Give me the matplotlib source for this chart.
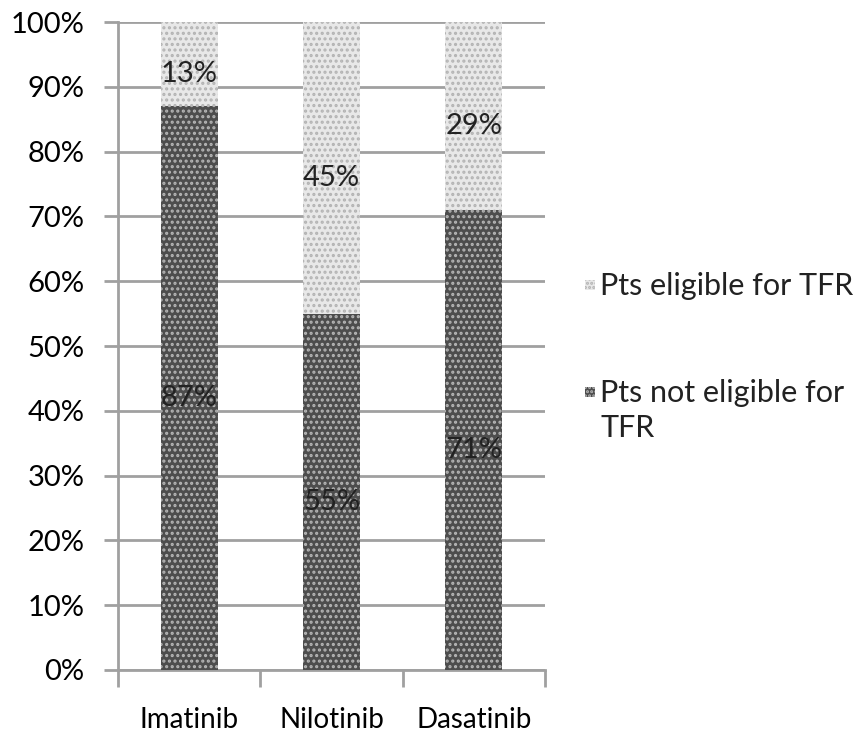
import matplotlib.pyplot as plt
from matplotlib.patches import Rectangle
from matplotlib.ticker import PercentFormatter

plt.rcParams['font.family'] = ['Lato', 'DejaVu Sans']
plt.rcParams['hatch.linewidth'] = 1.5

drugs = ["Imatinib", "Nilotinib", "Dasatinib"]
not_eligible = [87, 55, 71]
eligible = [13, 45, 29]
legend_labels = ["Pts eligible for TFR", "Pts not eligible for\nTFR"]

dark, dark_dot = "#4d4d4d", "#b5b5b5"
light, light_dot = "#e8e8e8", "#b3b3b3"

fig = plt.figure(figsize=(8.63, 7.49), dpi=100)
ax = fig.add_axes([0.1367, 0.1055, 0.4948, 0.8651])

x = range(len(drugs))
w = 0.4
ax.bar(x, not_eligible, width=w, color=dark, edgecolor=dark_dot,
       hatch="...", linewidth=0, zorder=3)
ax.bar(x, eligible, bottom=not_eligible, width=w, color=light,
       edgecolor=light_dot, hatch="...", linewidth=0, zorder=3)

# percentage labels in the middle of each segment
for i in x:
    ax.text(i, not_eligible[i] / 2 - 1.5, "{}%".format(not_eligible[i]),
            ha="center", va="center", fontsize=21, color="#222222", zorder=4)
    ax.text(i, not_eligible[i] + eligible[i] / 2 - 1.5, "{}%".format(eligible[i]),
            ha="center", va="center", fontsize=21, color="#222222", zorder=4)

ax.set_ylim(0, 100)
ax.set_xlim(-0.5, 2.5)
ax.set_yticks(range(0, 101, 10))
ax.yaxis.set_major_formatter(PercentFormatter(decimals=0))
ax.grid(axis="y", color="#a0a0a0", linewidth=2, zorder=0)

ax.set_xticks(list(x))
ax.set_xticklabels(drugs)
ax.set_xticks([-0.5, 0.5, 1.5, 2.5], minor=True)
ax.tick_params(axis="x", which="major", length=0, pad=27, labelsize=20)
ax.tick_params(axis="x", which="minor", length=12, width=2, color="#a0a0a0")
ax.tick_params(axis="y", length=10, width=2, color="#a0a0a0", labelsize=21, pad=14)

for s in ["top", "right"]:
    ax.spines[s].set_visible(False)
for s in ["left", "bottom"]:
    ax.spines[s].set_color("#a0a0a0")
    ax.spines[s].set_linewidth(2)

# legend drawn by hand so the square sits on the first text line
legend_y = [285, 392]
styles = [(light, light_dot), (dark, dark_dot)]
for (fc, dc), lab, py in zip(styles, legend_labels, legend_y):
    yf = 1 - py / 749
    fig.patches.append(Rectangle((585 / 863, yf - 5 / 749), 10 / 863, 10 / 749,
                                 transform=fig.transFigure, facecolor=fc,
                                 edgecolor=dc, hatch="....", linewidth=0))
    fig.text(600 / 863, yf + 13 / 749, lab, ha="left", va="top", fontsize=22,
             color="#222222", linespacing=1.3)

fig.savefig("out.png", dpi=100)
